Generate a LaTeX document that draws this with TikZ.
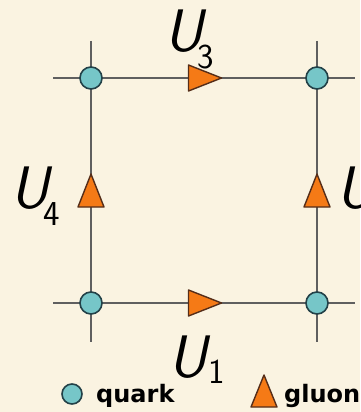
\documentclass[tikz,border=0pt]{standalone}
\usepackage{fontspec}
\newfontfamily\legendfont{DejaVu Sans}
\definecolor{bg}{RGB}{250,243,225}
\definecolor{quarkfill}{RGB}{118,198,200}
\definecolor{quarkedge}{RGB}{35,65,72}
\definecolor{gluonfill}{RGB}{245,122,22}
\definecolor{gluonedge}{RGB}{85,45,25}
\definecolor{linkgray}{RGB}{95,95,95}
\newcommand\mysub[2]{\raisebox{-#1}{\fontsize{35}{35}\selectfont\upshape #2}}
\begin{document}
\begin{tikzpicture}[x=1pt,y=-1pt,
  link/.style={draw=linkgray,line width=2.2pt},
  quark/.style={circle,fill=quarkfill,draw=quarkedge,line width=1.6pt,minimum size=22pt,inner sep=0pt},
  gluon/.style={fill=gluonfill,draw=gluonedge,line width=1.4pt,line join=round},
  ulabel/.style={inner sep=0pt,anchor=base west,font=\fontsize{60}{60}\sffamily\itshape},
  legtext/.style={inner sep=0pt,anchor=base west,font=\fontsize{24}{24}\legendfont\bfseries}]
\fill[bg] (0,0) rectangle (360,412);
\useasboundingbox (0,0) rectangle (360,412);
% free line ends
\coordinate (tlW) at (53,78);  \coordinate (trE) at (355,78);
\coordinate (blW) at (53,303); \coordinate (brE) at (355,303);
\coordinate (tlN) at (91,41);  \coordinate (blS) at (91,342);
\coordinate (trN) at (317,41); \coordinate (brS) at (317,342);
\draw[link] (tlW) -- (trE);
\draw[link] (blW) -- (brE);
\draw[link] (tlN) -- (blS);
\draw[link] (trN) -- (brS);
% quarks
\node[quark] (qtl) at (91,78) {};
\node[quark] (qtr) at (317,78) {};
\node[quark] (qbl) at (91,303) {};
\node[quark] (qbr) at (317,303) {};
% gluons
\coordinate (g3) at (204.5,78);
\coordinate (g1) at (204.5,303);
\coordinate (g4) at (91,191);
\coordinate (g2) at (317,191);
\draw[gluon] ([shift={(-16,-13)}]g3) -- ([shift={(17,0)}]g3) -- ([shift={(-16,13)}]g3) -- cycle;
\draw[gluon] ([shift={(-16,-13)}]g1) -- ([shift={(17,0)}]g1) -- ([shift={(-16,13)}]g1) -- cycle;
\draw[gluon] ([shift={(-13,16)}]g4) -- ([shift={(0,-17)}]g4) -- ([shift={(13,16)}]g4) -- cycle;
\draw[gluon] ([shift={(-13,16)}]g2) -- ([shift={(0,-17)}]g2) -- ([shift={(13,16)}]g2) -- cycle;
% labels
\node[ulabel] (u3) at (164,52) {U\kern-5pt\mysub{17pt}{3}};
\node[ulabel] (u1) at (168,377) {U\kern2pt\mysub{6pt}{1}};
\node[ulabel] (u4) at (10,208) {U\kern-5pt\mysub{17pt}{4}};
\node[ulabel] (u2) at (336,208) {U\kern-5pt\mysub{17pt}{2}};
% legend
\node[quark,minimum size=20pt] (legq) at (72,394) {};
\node[legtext] (legqt) at (96,402) {quark};
\coordinate (legg) at (264,391);
\draw[gluon] ([shift={(-13,16)}]legg) -- ([shift={(0,-16)}]legg) -- ([shift={(13,16)}]legg) -- cycle;
\node[legtext] (leggt) at (284,402) {gluon};
\end{tikzpicture}
\end{document}
